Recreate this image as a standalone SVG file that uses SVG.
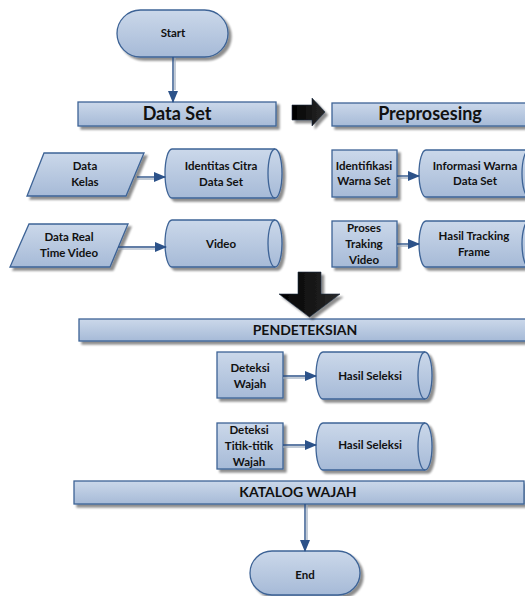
<svg xmlns="http://www.w3.org/2000/svg" width="525" height="596" viewBox="0 0 525 596">
<defs>
<linearGradient id="gBlue" x1="0" y1="0" x2="0" y2="1">
<stop offset="0" stop-color="#cbd8ea"/>
<stop offset="1" stop-color="#a6bad7"/>
</linearGradient>
<linearGradient id="gBlack" x1="0" y1="0" x2="1" y2="0">
<stop offset="0" stop-color="#000"/>
<stop offset="1" stop-color="#2a2a2a"/>
</linearGradient>
<filter id="sh" x="-10%" y="-10%" width="130%" height="140%">
<feGaussianBlur in="SourceAlpha" stdDeviation="0.8"/>
<feOffset dx="3" dy="3" result="o"/>
<feComponentTransfer><feFuncA type="linear" slope="0.45"/></feComponentTransfer>
<feMerge><feMergeNode/><feMergeNode in="SourceGraphic"/></feMerge>
</filter>
<marker id="ah" markerWidth="12" markerHeight="10" refX="11" refY="5" orient="auto" markerUnits="userSpaceOnUse">
<path d="M0,0 L12,5 L0,10 Z" fill="#2c5289"/>
</marker>
</defs>
<style>
.s{fill:url(#gBlue);stroke:#3d6396;stroke-width:1.3;filter:url(#sh)}
.t{font-family:Lato,"Open Sans","Liberation Sans",sans-serif;font-weight:bold;font-size:11.5px;fill:#111;text-anchor:middle}
.big{font-size:18px}
.mid{font-size:14px}
.c{stroke:#2c5289;stroke-width:1.4;fill:none;marker-end:url(#ah)}
.cs{stroke:#9aa8bb;stroke-width:1.2;fill:none}
.ba{fill:url(#gBlack);stroke:#1a2a40;stroke-width:0.6;filter:url(#sh)}
</style>

<g id="start">
<rect class="s" x="117" y="10" width="111" height="47" rx="23.5"/>
<text class="t" x="173" y="37">Start</text>
</g>

<g id="dataset">
<rect class="s" x="78" y="102" width="198" height="24"/>
<text class="t big" x="177" y="120">Data Set</text>
</g>

<g id="preprosesing">
<rect class="s" x="332" y="103" width="200" height="23"/>
<text class="t big" x="430" y="120">Preprosesing</text>
</g>

<g id="datakelas">
<polygon class="s" points="44,153 144,153 126,196 27,196"/>
<text class="t" x="85" y="170">Data</text>
<text class="t" x="85" y="186">Kelas</text>
</g>

<g id="identitas">
<path class="s" d="M172,149 L275,149 A7,24.5 0 0 1 275,198 L172,198 A7,24.5 0 0 1 172,149 Z"/>
<path d="M275,149 A7,24.5 0 0 0 275,198" fill="none" stroke="#3d6396" stroke-width="1.3"/>
<text class="t" x="221" y="170">Identitas Citra</text>
<text class="t" x="221" y="186">Data Set</text>
</g>

<g id="datareal">
<polygon class="s" points="29,224 128,224 110,267 10,267"/>
<text class="t" x="69" y="241">Data Real</text>
<text class="t" x="69" y="257">Time Video</text>
</g>

<g id="video">
<path class="s" d="M172,220 L275,220 A7,23.5 0 0 1 275,267 L172,267 A7,23.5 0 0 1 172,220 Z"/>
<path d="M275,220 A7,23.5 0 0 0 275,267" fill="none" stroke="#3d6396" stroke-width="1.3"/>
<text class="t" x="221" y="248">Video</text>
</g>

<g id="identifikasi">
<rect class="s" x="332" y="150" width="65" height="47"/>
<text class="t" x="364" y="170">Identifikasi</text>
<text class="t" x="364" y="185">Warna Set</text>
</g>

<g id="informasi">
<path class="s" d="M426,150 L529,150 A7,23.5 0 0 1 529,197 L426,197 A7,23.5 0 0 1 426,150 Z"/>
<path d="M529,150 A7,23.5 0 0 0 529,197" fill="none" stroke="#3d6396" stroke-width="1.3"/>
<text class="t" x="475" y="170">Informasi Warna</text>
<text class="t" x="475" y="185">Data Set</text>
</g>

<g id="proses">
<rect class="s" x="332" y="221" width="65" height="46"/>
<text class="t" x="364" y="232">Proses</text>
<text class="t" x="364" y="248">Traking</text>
<text class="t" x="364" y="264">Video</text>
</g>

<g id="hasiltracking">
<path class="s" d="M426,221 L529,221 A7,23 0 0 1 529,267 L426,267 A7,23 0 0 1 426,221 Z"/>
<path d="M529,221 A7,23 0 0 0 529,267" fill="none" stroke="#3d6396" stroke-width="1.3"/>
<text class="t" x="474" y="240">Hasil Tracking</text>
<text class="t" x="474" y="256">Frame</text>
</g>

<g id="pendeteksian">
<rect class="s" x="79" y="319" width="455" height="22"/>
<text class="t mid" x="305" y="335">PENDETEKSIAN</text>
</g>

<g id="deteksiwajah">
<rect class="s" x="217" y="352" width="66" height="46"/>
<text class="t" x="250" y="372">Deteksi</text>
<text class="t" x="250" y="388">Wajah</text>
</g>

<g id="hasilseleksi1">
<path class="s" d="M323,352 L425,352 A7,23.5 0 0 1 425,399 L323,399 A7,23.5 0 0 1 323,352 Z"/>
<path d="M425,352 A7,23.5 0 0 0 425,399" fill="none" stroke="#3d6396" stroke-width="1.3"/>
<text class="t" x="370" y="380">Hasil Seleksi</text>
</g>

<g id="deteksititik">
<rect class="s" x="217" y="423" width="66" height="46"/>
<text class="t" x="249" y="434">Deteksi</text>
<text class="t" x="249" y="450">Titik-titik</text>
<text class="t" x="249" y="466">Wajah</text>
</g>

<g id="hasilseleksi2">
<path class="s" d="M323,423 L425,423 A7,23.5 0 0 1 425,470 L323,470 A7,23.5 0 0 1 323,423 Z"/>
<path d="M425,423 A7,23.5 0 0 0 425,470" fill="none" stroke="#3d6396" stroke-width="1.3"/>
<text class="t" x="370" y="449">Hasil Seleksi</text>
</g>

<g id="katalog">
<rect class="s" x="74" y="481" width="450" height="23"/>
<text class="t mid" x="298" y="497">KATALOG WAJAH</text>
</g>

<g id="end">
<rect class="s" x="250" y="551" width="110" height="44" rx="22"/>
<text class="t" x="305" y="579">End</text>
</g>

<g id="connectors">
<line class="cs" x1="175" y1="58" x2="175" y2="90"/>
<line class="c" x1="173" y1="57" x2="173" y2="102"/>
<line class="cs" x1="137" y1="179" x2="155" y2="179"/>
<line class="c" x1="137" y1="177" x2="165" y2="177"/>
<line class="cs" x1="118" y1="249" x2="155" y2="249"/>
<line class="c" x1="118" y1="247" x2="166" y2="247"/>
<line class="cs" x1="397" y1="178" x2="409" y2="178"/>
<line class="c" x1="397" y1="176" x2="419" y2="176"/>
<line class="cs" x1="397" y1="246" x2="409" y2="246"/>
<line class="c" x1="397" y1="244" x2="419" y2="244"/>
<line class="cs" x1="283" y1="378" x2="306" y2="378"/>
<line class="c" x1="283" y1="376" x2="316" y2="376"/>
<line class="cs" x1="283" y1="447" x2="306" y2="447"/>
<line class="c" x1="283" y1="445" x2="316" y2="445"/>
<line class="cs" x1="307" y1="505" x2="307" y2="540"/>
<line class="c" x1="305" y1="504" x2="305" y2="551"/>
<path class="ba" d="M292,105 L312,105 L312,98 L325,112 L312,126 L312,120 L292,120 Z"/>
<path class="ba" d="M298,272 L321,272 L321,294 L340,294 L309.5,317 L279,294 L298,294 Z"/>
</g>
</svg>
